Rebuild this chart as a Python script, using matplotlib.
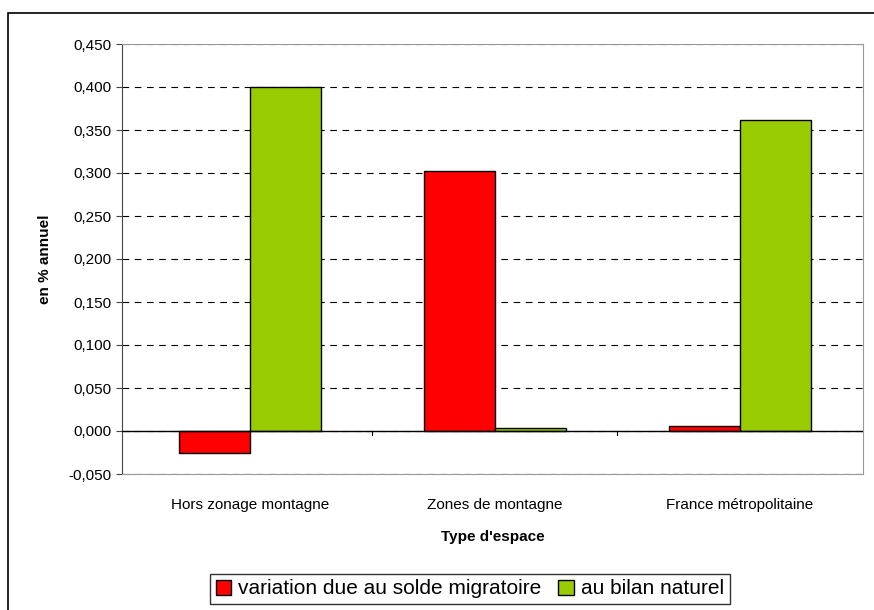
import matplotlib
matplotlib.use("Agg")
import matplotlib.pyplot as plt
import numpy as np
from matplotlib.patches import Rectangle
from matplotlib.ticker import FuncFormatter, MultipleLocator

plt.rcParams['font.family'] = ['Liberation Sans', 'DejaVu Sans']

categories = ["Hors zonage montagne", "Zones de montagne", "France métropolitaine"]
migratoire = [-0.025, 0.302, 0.006]
naturel = [0.400, 0.003, 0.362]
labels = ["variation due au solde migratoire", "au bilan naturel"]

fig = plt.figure(figsize=(8.74, 6.10), dpi=100)
ax = fig.add_axes([122 / 874, 1 - 474 / 610, (863 - 122) / 874, (474 - 44) / 610])

# outer chart frame
fig.patches.append(Rectangle((8 / 874, -0.01), 1.0, 1 - 13 / 610 + 0.01,
                             transform=fig.transFigure, fill=False,
                             edgecolor='black', linewidth=1.2))

x = np.arange(len(categories))
w = 0.29
ax.bar(x - w / 2, migratoire, w, color='#ff0000', edgecolor='black', linewidth=1, label=labels[0], zorder=3)
ax.bar(x + w / 2, naturel, w, color='#99cc00', edgecolor='black', linewidth=1, label=labels[1], zorder=3)

ax.set_xlim(-0.522, 2.502)
ax.set_ylim(-0.05, 0.45)
ax.yaxis.set_major_locator(MultipleLocator(0.05))
ax.yaxis.set_major_formatter(FuncFormatter(lambda v, p: f"{v:.3f}".replace('.', ',').replace('-0,000', '0,000')))
ax.tick_params(axis='y', labelsize=11, length=4, color='#444444')
ax.grid(axis='y', color='black', linestyle=(0, (6, 5)), linewidth=0.8, zorder=0)

# zero line with category separator ticks
ax.axhline(0, color='black', linewidth=1, zorder=4)
for b in [0.5, 1.5]:
    ax.plot([b, b], [0, -0.005], color='black', linewidth=0.8, zorder=4)
ax.set_xticks(x)
ax.set_xticklabels(categories, fontsize=11)
ax.tick_params(axis='x', length=0, pad=17)

for s in ['top', 'right', 'bottom']:
    ax.spines[s].set_color('#999999')
ax.spines['left'].set_color('#444444')

ax.set_xlabel("Type d'espace", fontsize=11, fontweight='bold', labelpad=13)
ax.set_ylabel("en % annuel", fontsize=11, fontweight='bold', labelpad=12)

fig.legend(loc='center', bbox_to_anchor=(470 / 874, 1 - 589 / 610), ncol=2,
           fontsize=15, frameon=True, fancybox=False, edgecolor='black',
           handlelength=0.75, handleheight=0.75, handletextpad=0.35, columnspacing=0.8,
           borderpad=0.25, borderaxespad=0)

fig.savefig("out.png", dpi=100)
